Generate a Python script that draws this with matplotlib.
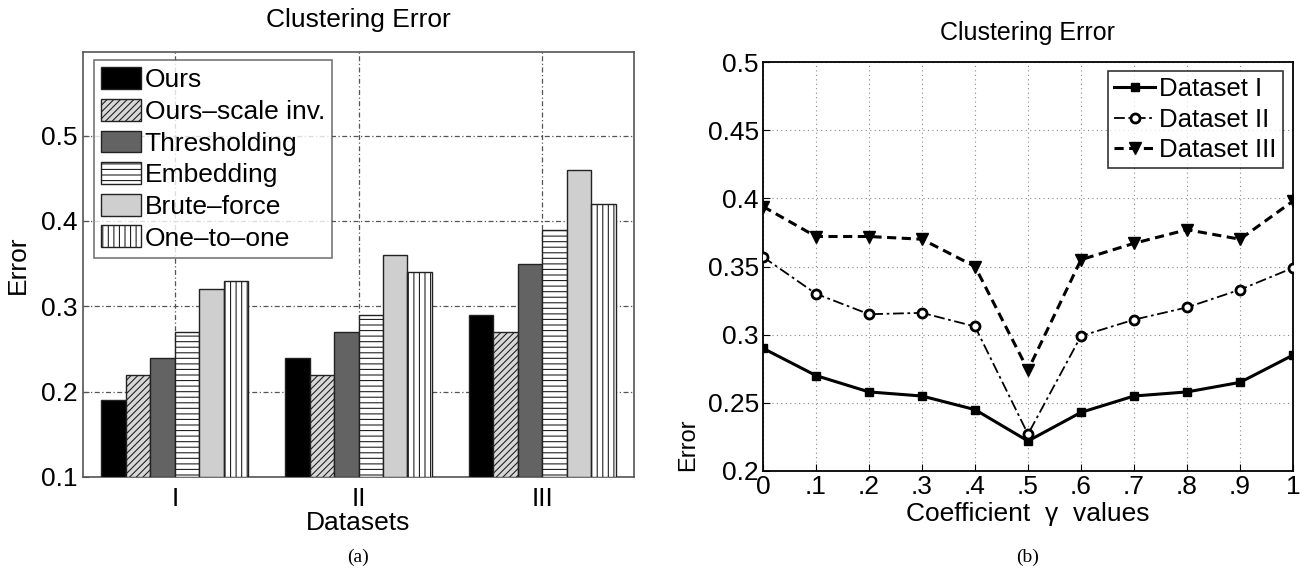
import matplotlib
matplotlib.use("Agg")
import matplotlib.pyplot as plt
import numpy as np

# ---- data: left bar chart ----
datasets = ["I", "II", "III"]
methods = ["Ours", "Ours\u2013scale inv.", "Thresholding", "Embedding", "Brute\u2013force", "One\u2013to\u2013one"]
ours = [0.19, 0.24, 0.29]
ours_scale_inv = [0.22, 0.22, 0.27]
thresholding = [0.24, 0.27, 0.35]
embedding = [0.27, 0.29, 0.39]
brute_force = [0.32, 0.36, 0.46]
one_to_one = [0.33, 0.34, 0.42]

# ---- data: right line chart ----
gamma = [0, 0.1, 0.2, 0.3, 0.4, 0.5, 0.6, 0.7, 0.8, 0.9, 1.0]
gamma_labels = ["0", ".1", ".2", ".3", ".4", ".5", ".6", ".7", ".8", ".9", "1"]
dataset_1 = [0.290, 0.270, 0.258, 0.255, 0.245, 0.222, 0.243, 0.255, 0.258, 0.265, 0.285]
dataset_2 = [0.357, 0.330, 0.315, 0.316, 0.306, 0.227, 0.299, 0.311, 0.320, 0.333, 0.349]
dataset_3 = [0.394, 0.372, 0.372, 0.370, 0.350, 0.274, 0.355, 0.367, 0.377, 0.370, 0.398]

plt.rcParams['font.family'] = ['Liberation Sans', 'DejaVu Sans']
plt.rcParams['hatch.linewidth'] = 0.8
plt.rcParams['hatch.color'] = '#333333'

W, H = 1308, 576
fig = plt.figure(figsize=(W / 100, H / 100), dpi=100)

def frac(l, t, r, b):
    return [l / W, 1 - b / H, (r - l) / W, (b - t) / H]

# ================= left: bar chart =================
ax1 = fig.add_axes(frac(83, 52, 634, 477))
series = [ours, ours_scale_inv, thresholding, embedding, brute_force, one_to_one]
styles = [
    dict(facecolor='black', hatch=None),
    dict(facecolor='#d8d8d8', hatch='/////'),
    dict(facecolor='#636363', hatch=None),
    dict(facecolor='white', hatch='---'),
    dict(facecolor='#cfcfcf', hatch=None),
    dict(facecolor='white', hatch='|||'),
]
x = np.arange(1, len(datasets) + 1)
n = len(series)
bw = 0.8 / n
for i, (vals, st) in enumerate(zip(series, styles)):
    pos = x - 0.4 + bw * (i + 0.5)
    ax1.bar(pos, np.array(vals) - 0.1, bottom=0.1, width=bw, facecolor=st['facecolor'],
            hatch=st['hatch'], edgecolor='#222222', linewidth=1.0, label=methods[i], zorder=3)

ax1.set_xlim(0.5, 3.5)
ax1.set_ylim(0.1, 0.598)
ax1.set_yticks([0.1, 0.2, 0.3, 0.4, 0.5])
ax1.set_yticklabels(["0.1", "0.2", "0.3", "0.4", "0.5"])
ax1.set_xticks(x)
ax1.set_xticklabels(datasets)
ax1.grid(True, linestyle=(0, (4, 2, 1, 2)), color='#555555', linewidth=0.9, zorder=0)
ax1.set_axisbelow(True)
for s in ax1.spines.values():
    s.set_color('#555555')
    s.set_linewidth(1.2)
ax1.tick_params(direction='in', length=4, color='#555555', labelsize=19, pad=4)
ax1.tick_params(axis='x', pad=7)
ax1.set_title("Clustering Error", fontsize=19, pad=18)
ax1.set_xlabel("Datasets", fontsize=19, labelpad=0)
ax1.set_ylabel("Error", fontsize=19, labelpad=8)
leg1 = ax1.legend(loc='upper left', bbox_to_anchor=(0.02, 0.981), borderaxespad=0,
                  fontsize=19, frameon=True, fancybox=False, edgecolor='#555555',
                  handlelength=1.5, handleheight=0.9, handletextpad=0.15,
                  labelspacing=0.25, borderpad=0.27)
leg1.get_frame().set_linewidth(1.2)

# ================= right: line chart =================
ax2 = fig.add_axes(frac(763, 62, 1293, 471))
ax2.plot(gamma, dataset_1, color='black', linestyle='-', linewidth=2.2, marker='s',
         markersize=6, label='Dataset I', zorder=3)
ax2.plot(gamma, dataset_2, color='black', linestyle=(0, (6, 2, 1.5, 2)), linewidth=1.3, marker='o',
         markersize=6.5, markerfacecolor='white', markeredgewidth=2, label='Dataset II', zorder=3)
ax2.plot(gamma, dataset_3, color='black', linestyle=(0, (3, 1.8)), linewidth=2.2, marker='v',
         markersize=9, label='Dataset III', zorder=3)
ax2.set_xlim(0, 1)
ax2.set_ylim(0.2, 0.5)
ax2.set_xticks(gamma)
ax2.set_xticklabels(gamma_labels)
ax2.set_yticks([0.2, 0.25, 0.3, 0.35, 0.4, 0.45, 0.5])
ax2.set_yticklabels(["0.2", "0.25", "0.3", "0.35", "0.4", "0.45", "0.5"])
ax2.grid(True, linestyle=(0, (1, 3)), color='#888888', linewidth=0.8, zorder=0)
for s in ax2.spines.values():
    s.set_color('black')
    s.set_linewidth(1.3)
ax2.tick_params(direction='in', length=5, labelsize=19, pad=3)
ax2.tick_params(axis='x', pad=3)
ax2.set_title("Clustering Error", fontsize=18, pad=16)
ax2.set_xlabel("Coefficient  \u03b3  values", fontsize=19)
ax2.xaxis.set_label_coords(0.5, -0.075)
ax2.set_ylabel("Error", fontsize=17)
ax2.yaxis.set_label_coords(-0.12, 0.065)
leg2 = ax2.legend(loc='upper right', bbox_to_anchor=(0.981, 0.978), borderaxespad=0,
                  fontsize=18.5, frameon=True, fancybox=False, edgecolor='black',
                  handlelength=1.6, handletextpad=0.15, labelspacing=0.24, borderpad=0.25)
leg2.get_frame().set_linewidth(1.2)

# sub-captions
fig.text(358 / W, 1 - 557 / H, "(a)", ha='center', va='center', fontsize=14, family='Liberation Serif')
fig.text(1028 / W, 1 - 557 / H, "(b)", ha='center', va='center', fontsize=14, family='Liberation Serif')

fig.savefig("out.png", dpi=100)
